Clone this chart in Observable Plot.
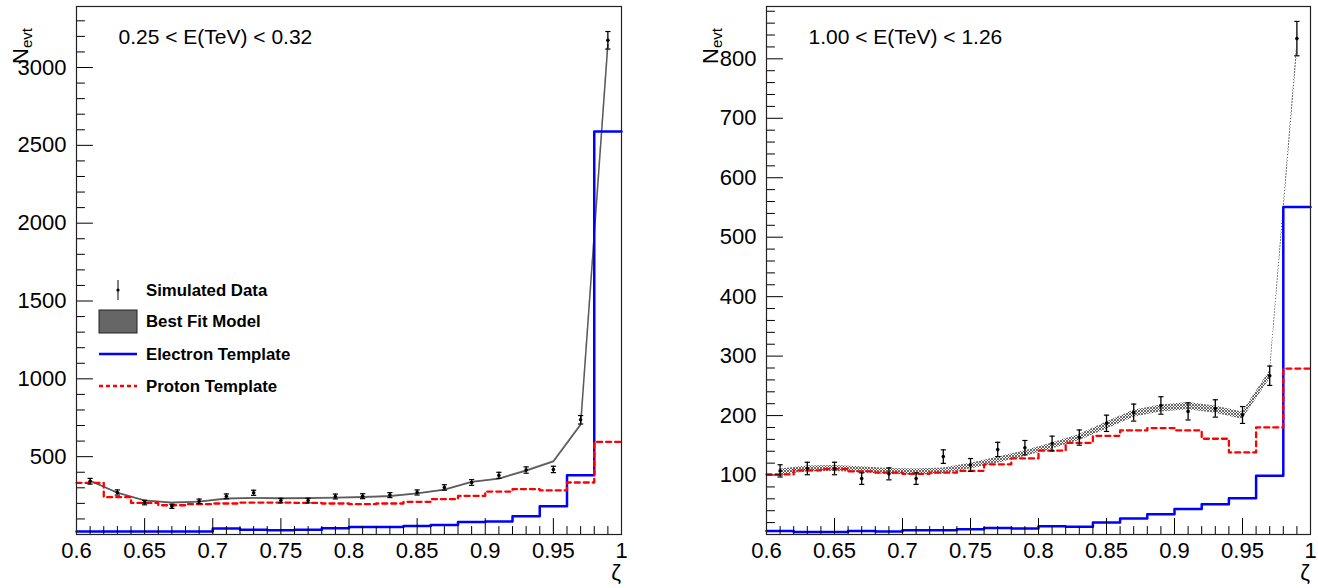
<!DOCTYPE html>
<html><head><meta charset="utf-8">
<script src="https://cdn.jsdelivr.net/npm/d3@7"></script>
<script src="https://cdn.jsdelivr.net/npm/@observablehq/plot@0.6"></script>
<style>
html,body{margin:0;padding:0;background:#fff;}
#wrap{position:relative;width:1318px;height:588px;display:flex;}
.panel{position:relative;width:659px;height:588px;}
.panel svg{display:block;}
#legend{position:absolute;left:0;top:0;pointer-events:none;}
</style></head>
<body>
<div id="wrap"><div class="panel" id="left"></div><div class="panel" id="right"></div></div>
<script>
// ---- shared binning ----
const binLowEdges = [0.60,0.62,0.64,0.66,0.68,0.70,0.72,0.74,0.76,0.78,0.80,0.82,0.84,0.86,0.88,0.90,0.92,0.94,0.96,0.98];
const binUpperEdge = 1.0;
const binCenters = [0.61,0.63,0.65,0.67,0.69,0.71,0.73,0.75,0.77,0.79,0.81,0.83,0.85,0.87,0.89,0.91,0.93,0.95,0.97,0.99];
const xMajorTicks = [0.6,0.65,0.7,0.75,0.8,0.85,0.9,0.95,1];
const xTickLabels = ["0.6","0.65","0.7","0.75","0.8","0.85","0.9","0.95","1"];

// ---- left panel: 0.25 < E < 0.32 TeV ----
const leftTitle = "0.25 < E(TeV) < 0.32";
const leftData = [342,270,205,181,213,245,268,218,218,244,246,253,270,302,334,380,414,418,737,3175];
const leftDataErr = [18.5,16.4,14.3,13.5,14.6,15.7,16.4,14.8,14.8,15.6,15.7,15.9,16.4,17.4,18.3,19.5,20.3,20.4,27.1,56.3];
const leftModel = [345,268,218,204,210,230,234,232,233,236,240,246,263,287,337,358,410,468,704,3150];
const leftModelErr = [4,4,4,4,4,4,4,4,4,4,4,4,4,4,4,4,5,5,6,12];
const leftElectron = [20,20,20,20,20,38,31,27,31,40,48,48,55,61,81,83,117,182,380,2589];
const leftProton = [332,240,203,188,195,199,205,205,203,199,195,199,210,227,248,276,291,283,334,595];
const leftYMajor = [500,1000,1500,2000,2500,3000];
const leftYMax = 3392;

// ---- right panel: 1.00 < E < 1.26 TeV ----
const rightTitle = "1.00 < E(TeV) < 1.26";
const rightData = [107,111,111,94,102,94,131,117,143,146,153,163,187,205,217,207,212,201,267,834];
const rightDataErr = [10.3,10.5,10.5,9.7,10.1,9.7,11.4,10.8,12.0,12.1,12.4,12.8,13.7,14.3,14.7,14.4,14.6,14.2,16.3,28.9];
const rightModel = [105,110,111,109,106,105,107,115,125,136,149,163,183,203,212,216,210,200,268,815];
const rightModelErr = [5,5,5,5,5,5,5,5,5,5,5,5,6,6,6,6,6,6,7,12];
const rightElectron = [6,4,4,6,5,7,7,9,11,10,14,13,20,27,34,43,51,61,99,551];
const rightProton = [101,108,110,106,104,102,104,107,118,128,141,154,166,175,179,175,161,138,180,279];
const rightYMajor = [100,200,300,400,500,600,700,800];
const rightYMax = 888;

const FONT = "'Liberation Sans', Arial, Helvetica, sans-serif";

const tickShape = {draw(ctx, l) { ctx.moveTo(0, 0); ctx.lineTo(0, -l); }};
const capSymbol = {draw(ctx) { ctx.moveTo(-2.6, 0); ctx.lineTo(2.6, 0); }};

function steps(vals) {
  return binLowEdges.map((x, i) => ({x, y: vals[i]})).concat([{x: binUpperEdge, y: vals[vals.length - 1]}]);
}

function panel(cfg) {
  const pts = binCenters.map((x, i) => ({x, y: cfg.data[i], e: cfg.dataErr[i]}));
  const model = binCenters.map((x, i) => ({x, y: cfg.model[i], lo: cfg.model[i] - cfg.modelErr[i], hi: cfg.model[i] + cfg.modelErr[i]}));
  const xMinor = d3.range(61, 100).map(d => d / 100).filter(d => Math.round(d * 100) % 5 !== 0);
  const yMinor = d3.range(cfg.yMinorStep, cfg.yMax, cfg.yMinorStep).filter(d => d % cfg.yMajorStep !== 0);
  const marks = [
    Plot.areaY(model, {x: "x", y1: "lo", y2: "hi", fill: cfg.bandFill, curve: "linear"}),
    cfg.modelLine ? Plot.lineY(model, {x: "x", y: "y", stroke: cfg.modelLine, strokeWidth: 1.5}) : null,
    Plot.lineY(steps(cfg.electron), {x: "x", y: "y", curve: "step-after", stroke: "#0000ff", strokeWidth: 2.5}),
    Plot.lineY(steps(cfg.proton), {x: "x", y: "y", curve: "step-after", stroke: "#ff0000", strokeWidth: 2.3, strokeDasharray: "5,4"}),
    Plot.ruleX(pts, {x: "x", y1: d => d.y - d.e, y2: d => d.y + d.e, stroke: "#000", strokeWidth: 1.3}),
    Plot.dot(pts, {x: "x", y: d => d.y - d.e, symbol: capSymbol, stroke: "#000", strokeWidth: 1.2, r: 2}),
    Plot.dot(pts, {x: "x", y: d => d.y + d.e, symbol: capSymbol, stroke: "#000", strokeWidth: 1.2, r: 2}),
    Plot.dot(pts, {x: "x", y: "y", r: 1.8, fill: "#000"}),
    // ticks (ROOT style, inward)
    Plot.vector(xMajorTicks, {x: d => d, frameAnchor: "bottom", length: 16, anchor: "start", shape: tickShape, stroke: "#000", strokeWidth: 1}),
    Plot.vector(xMinor, {x: d => d, frameAnchor: "bottom", length: 8, anchor: "start", shape: tickShape, stroke: "#000", strokeWidth: 1}),
    Plot.vector(cfg.yMajor, {y: d => d, frameAnchor: "left", rotate: 90, length: 16, anchor: "start", shape: tickShape, stroke: "#000", strokeWidth: 1}),
    Plot.vector(yMinor, {y: d => d, frameAnchor: "left", rotate: 90, length: 8, anchor: "start", shape: tickShape, stroke: "#000", strokeWidth: 1}),
    Plot.axisX(xMajorTicks, {tickSize: 0, tickPadding: 8, fontSize: 22, tickFormat: (d, i) => xTickLabels[i], label: null}),
    Plot.axisY(cfg.yMajor, {tickSize: 0, tickPadding: 10, fontSize: 22, tickFormat: d => String(d), label: null}),
    Plot.frame({stroke: "#222", strokeWidth: 1.2}),
    Plot.text([cfg.title], {frameAnchor: "top-left", dx: 42, dy: 31, text: d => d, textAnchor: "start", fontSize: 21, lineAnchor: "middle"})
  ].filter(Boolean);
  const svg = Plot.plot({
    width: 659, height: 588,
    marginLeft: cfg.ml, marginRight: cfg.mr, marginTop: 6, marginBottom: 54,
    style: {fontFamily: FONT, fontSize: "22px", color: "#000", background: "#fff"},
    x: {domain: [0.6, 1.0]},
    y: {domain: [0, cfg.yMax]},
    marks
  });
  const s = d3.select(svg);
  if (cfg.pattern) {
    const p = s.insert("defs", ":first-child").append("pattern")
      .attr("id", cfg.pattern).attr("patternUnits", "userSpaceOnUse").attr("width", 3).attr("height", 3);
    p.append("rect").attr("width", 3).attr("height", 3).attr("fill", "#f4f4f4");
    p.append("path").attr("d", "M0,0L3,3M3,0L0,3").attr("stroke", "#333").attr("stroke-width", 0.7);
  }
  // y-axis title N_evt (rotated) and x-axis title zeta
  const yt = s.append("text").attr("transform", `translate(${cfg.ml - 48},46) rotate(-90)`)
    .attr("font-family", FONT).attr("font-size", 22).attr("fill", "#000");
  yt.append("tspan").text("N");
  yt.append("tspan").attr("font-size", 15).attr("dy", 4).text("evt");
  s.append("text").attr("x", 659 - cfg.mr).attr("y", 580).attr("text-anchor", "end")
    .attr("font-family", FONT).attr("font-size", 22).attr("fill", "#000").text("ζ");
  return svg;
}

document.getElementById("left").appendChild(panel({
  title: leftTitle, data: leftData, dataErr: leftDataErr, model: leftModel, modelErr: leftModelErr,
  electron: leftElectron, proton: leftProton, yMajor: leftYMajor, yMax: leftYMax,
  yMajorStep: 500, yMinorStep: 100, ml: 76, mr: 38, bandFill: "#8a8a8a", modelLine: "#5a5a5a"
}));
document.getElementById("right").appendChild(panel({
  title: rightTitle, data: rightData, dataErr: rightDataErr, model: rightModel, modelErr: rightModelErr,
  electron: rightElectron, proton: rightProton, yMajor: rightYMajor, yMax: rightYMax,
  yMajorStep: 100, yMinorStep: 20, ml: 107, mr: 8, bandFill: "url(#hatchR)", modelLine: null, pattern: "hatchR"
}));

// ---- legend (left panel) ----
const legendItems = ["Simulated Data", "Best Fit Model", "Electron Template", "Proton Template"];
const lg = d3.select("#left").append("svg").attr("id", "legend").attr("width", 659).attr("height", 588);
const rowY = [290, 321, 354, 386];
lg.append("line").attr("x1", 118).attr("x2", 118).attr("y1", 280).attr("y2", 300).attr("stroke", "#000").attr("stroke-width", 1);
lg.append("circle").attr("cx", 118).attr("cy", 290).attr("r", 1.6).attr("fill", "#000");
lg.append("rect").attr("x", 99).attr("y", 310).attr("width", 38).attr("height", 23).attr("fill", "#666").attr("stroke", "#222").attr("stroke-width", 1);
lg.append("line").attr("x1", 99).attr("x2", 137).attr("y1", 354).attr("y2", 354).attr("stroke", "#0000ff").attr("stroke-width", 2.5);
lg.append("line").attr("x1", 99).attr("x2", 137).attr("y1", 386).attr("y2", 386).attr("stroke", "#ff0000").attr("stroke-width", 2.5).attr("stroke-dasharray", "4,3");
legendItems.forEach((t, i) => {
  lg.append("text").attr("x", 146).attr("y", rowY[i] + 6).attr("font-family", FONT).attr("font-weight", "bold")
    .attr("font-size", 16.8).attr("fill", "#000").text(t);
});
</script>
</body></html>
